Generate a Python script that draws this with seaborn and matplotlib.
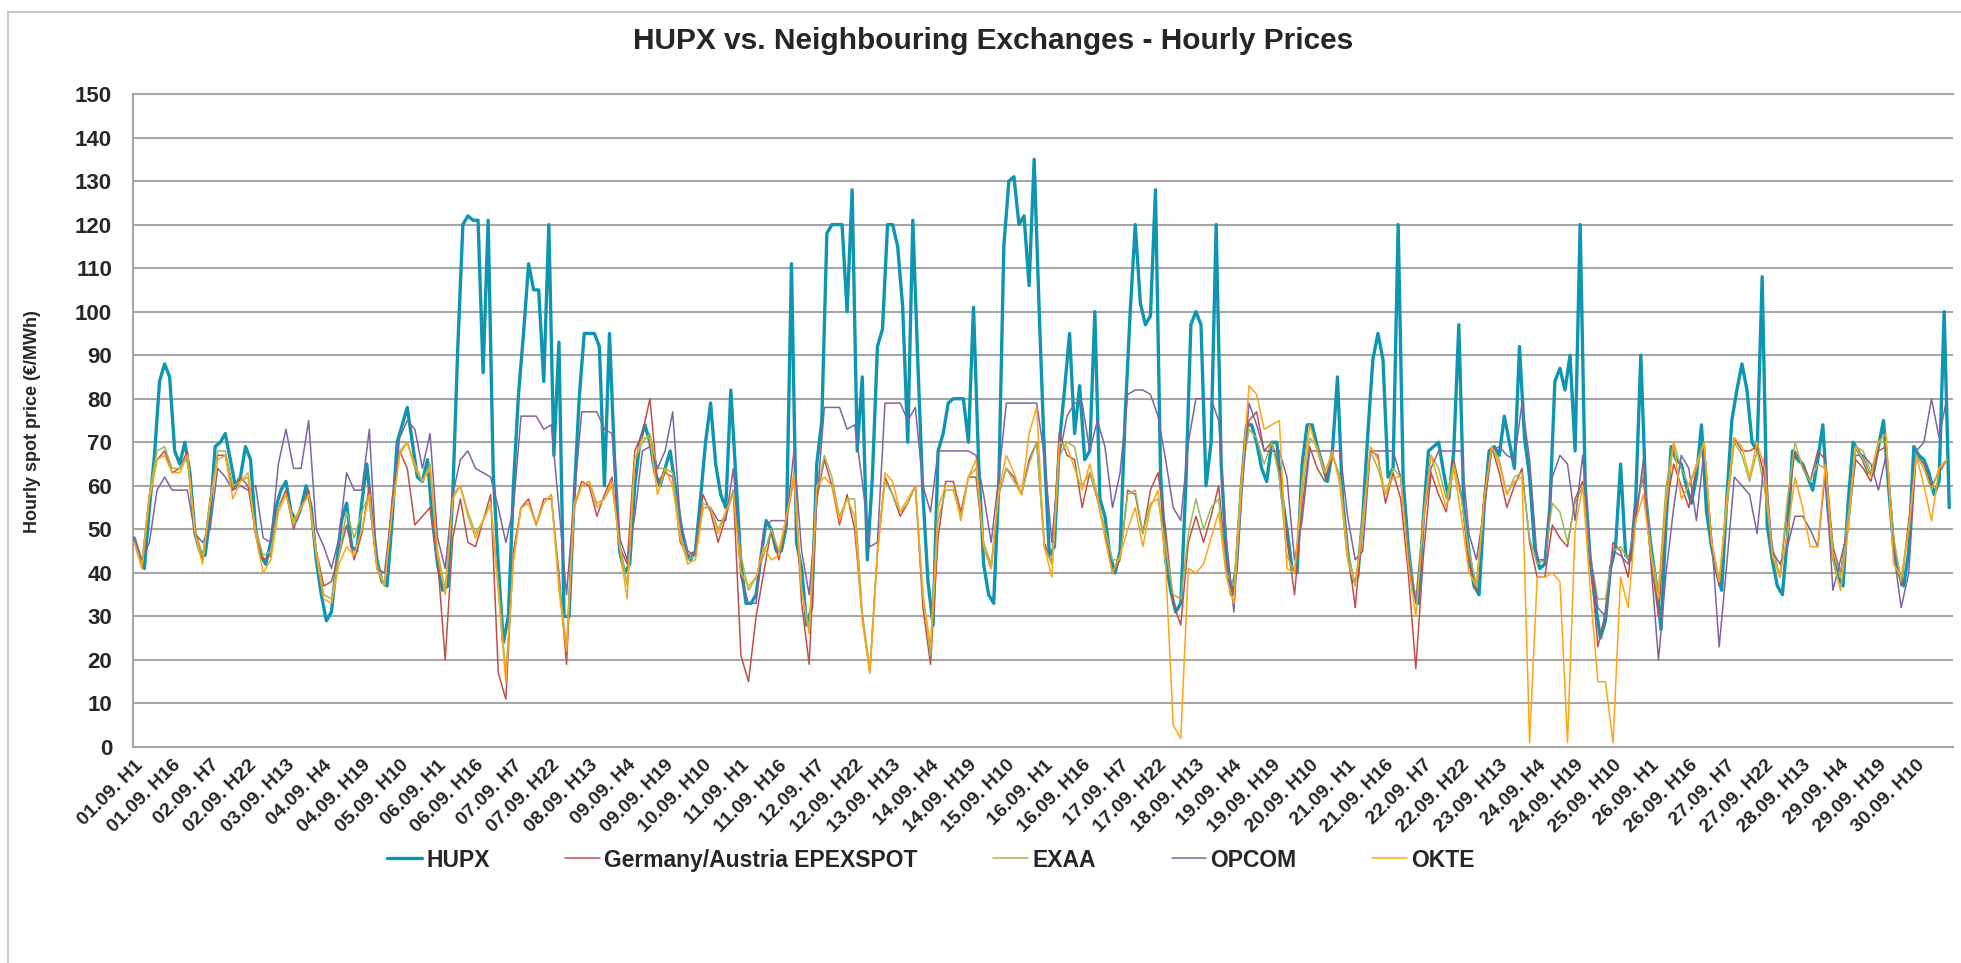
import matplotlib
matplotlib.use("Agg")
import matplotlib.pyplot as plt
import seaborn as sns
import pandas as pd
from matplotlib.lines import Line2D

# hours of the day that were read off the chart
# (HUPX every 2 hours, the other exchanges every 3 hours)
hupx_hours = [1, 3, 5, 7, 9, 11, 13, 15, 17, 19, 21, 23]
other_hours = [1, 4, 7, 10, 13, 16, 19, 22]
n_days = 30

# HUPX, EUR/MWh, one row per day (01.09 - 30.09)
hupx = [
    48, 44, 41, 55, 67, 84, 88, 85, 68, 65, 70, 63,
    49, 45, 44, 53, 69, 70, 72, 66, 60, 62, 69, 66,
    50, 44, 42, 47, 55, 59, 61, 54, 52, 55, 60, 55,
    43, 35, 29, 31, 42, 52, 56, 46, 45, 56, 65, 53,
    43, 38, 37, 52, 70, 74, 78, 70, 62, 61, 66, 52,
    42, 36, 37, 58, 92, 120, 122, 121, 121, 86, 121, 63,
    42, 24, 30, 60, 81, 95, 111, 105, 105, 84, 120, 67,
    93, 30, 30, 57, 80, 95, 95, 95, 92, 60, 95, 66,
    45, 40, 42, 60, 70, 74, 70, 63, 60, 64, 68, 60,
    52, 45, 43, 45, 57, 70, 79, 65, 58, 55, 82, 62,
    42, 33, 33, 35, 44, 52, 50, 45, 45, 51, 111, 47,
    41, 28, 32, 65, 75, 118, 120, 120, 120, 100, 128, 68,
    85, 43, 62, 92, 96, 120, 120, 115, 101, 70, 121, 88,
    58, 38, 28, 68, 72, 79, 80, 80, 80, 70, 101, 66,
    42, 35, 33, 60, 115, 130, 131, 120, 122, 106, 135, 100,
    68, 44, 46, 70, 82, 95, 72, 83, 66, 68, 100, 57,
    53, 44, 40, 45, 76, 100, 120, 102, 97, 99, 128, 63,
    43, 36, 31, 33, 60, 97, 100, 97, 60, 70, 120, 65,
    44, 35, 41, 60, 74, 74, 70, 64, 61, 70, 70, 58,
    50, 41, 40, 65, 74, 74, 69, 65, 61, 68, 85, 57,
    45, 38, 39, 53, 72, 89, 95, 89, 62, 64, 120, 61,
    46, 36, 33, 53, 68, 69, 70, 63, 57, 68, 97, 55,
    45, 37, 35, 55, 68, 69, 67, 76, 70, 64, 92, 71,
    62, 46, 41, 42, 55, 84, 87, 82, 90, 68, 120, 60,
    43, 33, 25, 29, 41, 46, 65, 44, 43, 57, 90, 57,
    46, 38, 27, 52, 69, 66, 65, 60, 56, 62, 74, 54,
    46, 40, 36, 57, 75, 82, 88, 82, 70, 68, 108, 51,
    43, 37, 35, 48, 68, 66, 65, 62, 59, 66, 74, 55,
    44, 39, 37, 56, 70, 68, 66, 63, 63, 69, 75, 60,
    46, 40, 37, 45, 69, 67, 66, 63, 58, 61, 100, 55,
]

# Germany/Austria EPEXSPOT
epex = [
    48, 42, 58, 66, 68, 63, 64, 68,
    49, 43, 57, 67, 67, 59, 62, 60,
    49, 43, 44, 55, 59, 50, 55, 59,
    45, 37, 38, 44, 51, 43, 49, 60,
    41, 37, 57, 68, 64, 51, 53, 55,
    43, 20, 48, 57, 47, 46, 52, 58,
    17, 11, 45, 55, 57, 51, 57, 57,
    40, 19, 55, 61, 60, 53, 58, 62,
    46, 42, 68, 72, 80, 61, 63, 62,
    47, 44, 45, 58, 54, 47, 53, 59,
    21, 15, 30, 40, 50, 43, 52, 62,
    33, 19, 57, 66, 60, 51, 58, 50,
    30, 17, 45, 62, 58, 53, 56, 60,
    32, 19, 48, 61, 61, 54, 62, 62,
    46, 41, 58, 64, 62, 58, 66, 70,
    47, 42, 72, 67, 66, 55, 63, 57,
    49, 40, 43, 59, 58, 49, 59, 63,
    50, 33, 28, 47, 53, 47, 53, 60,
    41, 35, 62, 75, 77, 68, 70, 64,
    48, 35, 55, 69, 64, 61, 67, 62,
    46, 32, 51, 68, 67, 56, 63, 57,
    40, 18, 44, 63, 58, 54, 66, 58,
    42, 36, 58, 69, 63, 55, 60, 64,
    47, 39, 39, 51, 48, 46, 57, 61,
    44, 23, 31, 47, 45, 39, 55, 62,
    43, 30, 55, 65, 60, 55, 64, 70,
    46, 37, 55, 71, 68, 68, 69, 62,
    46, 39, 55, 68, 65, 61, 68, 66,
    46, 40, 52, 66, 64, 61, 68, 69,
    48, 37, 52, 67, 65, 60, 63, 66,
]

# EXAA
exaa = [
    48, 42, 58, 68, 69, 64, 64, 67,
    50, 44, 56, 68, 68, 60, 61, 62,
    50, 44, 45, 55, 58, 51, 55, 58,
    45, 35, 34, 44, 54, 48, 54, 58,
    42, 37, 55, 68, 70, 64, 61, 65,
    45, 36, 58, 60, 54, 49, 52, 56,
    37, 17, 43, 55, 56, 51, 56, 58,
    38, 23, 55, 60, 61, 56, 57, 60,
    47, 37, 66, 70, 72, 64, 64, 63,
    49, 43, 44, 56, 55, 50, 54, 59,
    44, 36, 39, 44, 50, 45, 53, 63,
    36, 27, 58, 67, 62, 53, 57, 57,
    31, 18, 45, 61, 58, 54, 56, 60,
    35, 21, 52, 59, 59, 53, 62, 64,
    47, 42, 58, 64, 61, 58, 65, 70,
    46, 42, 67, 70, 69, 60, 63, 57,
    50, 43, 43, 58, 59, 49, 56, 57,
    46, 35, 34, 49, 57, 50, 55, 57,
    40, 37, 62, 73, 71, 65, 70, 62,
    44, 40, 58, 71, 69, 63, 67, 62,
    45, 37, 53, 68, 64, 58, 64, 62,
    45, 34, 53, 67, 64, 57, 65, 57,
    45, 37, 55, 69, 66, 58, 62, 63,
    48, 42, 43, 56, 54, 47, 56, 60,
    44, 34, 34, 45, 46, 43, 52, 64,
    45, 36, 60, 70, 64, 60, 64, 70,
    47, 38, 55, 70, 67, 61, 68, 59,
    46, 39, 57, 70, 64, 61, 65, 64,
    45, 39, 53, 69, 68, 63, 70, 70,
    48, 38, 50, 67, 64, 59, 64, 66,
]

# OPCOM
opcom = [
    48, 43, 47, 59, 62, 59, 59, 59,
    49, 47, 50, 64, 62, 59, 60, 59,
    60, 48, 47, 65, 73, 64, 64, 75,
    50, 46, 41, 48, 63, 59, 59, 73,
    41, 40, 55, 71, 75, 73, 64, 72,
    48, 41, 58, 66, 68, 64, 63, 62,
    55, 47, 55, 76, 76, 76, 73, 74,
    55, 35, 57, 77, 77, 77, 73, 72,
    48, 43, 53, 68, 69, 64, 68, 77,
    52, 45, 44, 55, 55, 52, 52, 64,
    39, 33, 33, 50, 52, 52, 52, 68,
    45, 35, 56, 78, 78, 78, 73, 74,
    61, 46, 47, 79, 79, 79, 75, 78,
    60, 54, 68, 68, 68, 68, 68, 67,
    58, 47, 62, 79, 79, 79, 79, 79,
    67, 47, 67, 76, 79, 79, 68, 75,
    69, 55, 63, 81, 82, 82, 81, 76,
    66, 55, 52, 70, 80, 80, 80, 75,
    48, 31, 58, 79, 74, 68, 68, 68,
    62, 43, 52, 68, 68, 68, 68, 68,
    53, 43, 45, 68, 68, 68, 68, 62,
    44, 33, 52, 64, 68, 68, 68, 68,
    49, 43, 55, 68, 69, 67, 66, 79,
    66, 43, 43, 62, 67, 65, 52, 67,
    44, 32, 30, 45, 44, 42, 52, 66,
    42, 20, 40, 55, 67, 64, 52, 68,
    48, 23, 42, 62, 60, 58, 49, 67,
    45, 42, 46, 53, 53, 50, 46, 63,
    36, 43, 50, 67, 67, 65, 59, 67,
    45, 32, 40, 68, 70, 80, 71, 80,
]

# OKTE
okte = [
    47, 41, 57, 66, 67, 63, 63, 67,
    49, 42, 56, 66, 67, 57, 61, 63,
    49, 40, 43, 54, 58, 52, 55, 58,
    44, 34, 33, 42, 46, 44, 50, 58,
    41, 37, 54, 67, 70, 65, 61, 64,
    44, 35, 57, 60, 53, 48, 52, 56,
    36, 15, 43, 55, 56, 51, 56, 58,
    36, 22, 56, 60, 61, 55, 57, 61,
    46, 34, 66, 71, 71, 58, 64, 60,
    48, 42, 43, 55, 55, 49, 54, 58,
    40, 37, 39, 46, 43, 44, 53, 62,
    36, 26, 60, 62, 60, 52, 57, 53,
    29, 17, 44, 63, 61, 54, 57, 60,
    35, 23, 55, 60, 60, 52, 62, 66,
    46, 41, 59, 67, 63, 58, 72, 78,
    46, 39, 70, 69, 64, 59, 65, 58,
    48, 40, 44, 50, 55, 46, 55, 59,
    42, 5, 2, 41, 40, 42, 48, 54,
    39, 33, 60, 83, 81, 73, 74, 75,
    41, 40, 61, 74, 68, 63, 68, 60,
    43, 37, 50, 69, 66, 58, 62, 62,
    42, 30, 52, 67, 61, 55, 64, 53,
    40, 37, 57, 69, 65, 58, 61, 62,
    1, 39, 39, 40, 38, 1, 50, 60,
    36, 15, 15, 1, 39, 32, 52, 58,
    44, 34, 56, 70, 57, 60, 65, 70,
    47, 38, 57, 71, 69, 62, 70, 64,
    44, 39, 49, 62, 55, 46, 46, 65,
    43, 36, 50, 69, 66, 62, 70, 72,
    42, 39, 50, 67, 60, 52, 64, 66,
]

tick_labels = [
    "01.09. H1", "01.09. H16", "02.09. H7", "02.09. H22", "03.09. H13", "04.09. H4",
    "04.09. H19", "05.09. H10", "06.09. H1", "06.09. H16", "07.09. H7", "07.09. H22",
    "08.09. H13", "09.09. H4", "09.09. H19", "10.09. H10", "11.09. H1", "11.09. H16",
    "12.09. H7", "12.09. H22", "13.09. H13", "14.09. H4", "14.09. H19", "15.09. H10",
    "16.09. H1", "16.09. H16", "17.09. H7", "17.09. H22", "18.09. H13", "19.09. H4",
    "19.09. H19", "20.09. H10", "21.09. H1", "21.09. H16", "22.09. H7", "22.09. H22",
    "23.09. H13", "24.09. H4", "24.09. H19", "25.09. H10", "26.09. H1", "26.09. H16",
    "27.09. H7", "27.09. H22", "28.09. H13", "29.09. H4", "29.09. H19", "30.09. H10",
]


def positions(hours):
    # category index of each reading (0 = 01.09. H1)
    return [d * 24 + h - 1 for d in range(n_days) for h in hours]


series = [
    ("HUPX", hupx, hupx_hours, "#0E95B0", 2.4),
    ("Germany/Austria EPEXSPOT", epex, other_hours, "#C0504D", 1.1),
    ("EXAA", exaa, other_hours, "#9BBB59", 1.1),
    ("OPCOM", opcom, other_hours, "#8064A2", 1.1),
    ("OKTE", okte, other_hours, "#FFA515", 1.1),
]

sns.set_style("white")
plt.rcParams["font.family"] = ["Liberation Sans", "DejaVu Sans"]
plt.rcParams["font.weight"] = "bold"

W, H = 1961, 963
fig = plt.figure(figsize=(W / 100, H / 100), dpi=100)
ax = fig.add_axes([133 / W, 1 - 747 / H, (1953 - 133) / W, (747 - 94) / H])

grey = "#A6A6A6"

for z, (name, vals, hrs, col, lw) in enumerate(series):
    df = pd.DataFrame({"pos": positions(hrs), "price": vals})
    sns.lineplot(data=df, x="pos", y="price", color=col, linewidth=lw,
                 estimator=None, sort=False, ax=ax, zorder=3 + z)

ax.set_xlim(-0.5, 719.5)
ax.set_ylim(0, 150)
ax.set_yticks(range(0, 151, 10))
ax.set_xticks(range(0, 720, 15))
ax.set_xticklabels(tick_labels, rotation=45, ha="right", rotation_mode="anchor",
                   fontsize=14, fontweight="bold")
for lab in ax.get_yticklabels():
    lab.set_fontweight("bold")
ax.tick_params(axis="y", length=0, pad=15, labelsize=16)
ax.tick_params(axis="x", length=0, pad=7)
ax.set_xlabel("")
ax.set_ylabel("")

ax.grid(axis="y", color=grey, linewidth=1.5)
ax.grid(axis="x", visible=False)
ax.set_axisbelow(True)
for side in ["left", "bottom", "top"]:
    ax.spines[side].set_color(grey)
    ax.spines[side].set_linewidth(1.5)
ax.spines["right"].set_visible(False)

# chart frame (top and left edge are visible in the picture)
fig.add_artist(Line2D([8 / W, 1.0], [1 - 12 / H, 1 - 12 / H], color="#C8C8C8", linewidth=1.5))
fig.add_artist(Line2D([8 / W, 8 / W], [1 - 12 / H, 0.0], color="#C8C8C8", linewidth=1.5))

fig.text(993 / W, 1 - 41 / H, "HUPX vs. Neighbouring Exchanges - Hourly Prices",
         ha="center", va="center", fontsize=21.5, fontweight="bold")
fig.text(33 / W, 1 - 422 / H, "Hourly spot price (€/MWh)", rotation=90,
         ha="center", va="center", fontsize=13, fontweight="bold")

handles = [Line2D([0], [0], color=col, linewidth=lw) for _, _, _, col, lw in series]
labels = [name for name, _, _, _, _ in series]
fig.legend(handles, labels, loc="center", bbox_to_anchor=(931 / W, 1 - 860 / H),
           ncol=5, frameon=False, prop={"weight": "bold", "size": 16.5},
           handlelength=1.5, handletextpad=0.2, columnspacing=3.3)

fig.savefig("out.png", dpi=100)
